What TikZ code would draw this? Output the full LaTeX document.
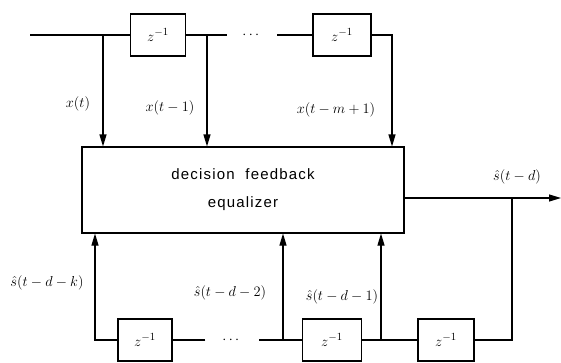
\documentclass[tikz,border=0pt]{standalone}
\usepackage{amsmath}
\usepackage{fontspec}
\setsansfont{Liberation Sans}
\usetikzlibrary{arrows.meta,positioning}

\begin{document}
\begin{tikzpicture}[x=1pt,y=-1pt,line width=1.1pt,
    every node/.style={font=\fontsize{15}{18}\selectfont},
    delay/.style={draw,minimum width=55pt,minimum height=42pt,inner sep=0pt},
    tap/.style={-{Triangle[length=12pt,width=7pt]}}]
  \useasboundingbox (0,0) rectangle (561,362);
  % equalizer block
  \node[draw,minimum width=322pt,minimum height=86pt,align=center,
        font=\sffamily\fontsize{15}{28}\selectfont\addfontfeatures{LetterSpace=8}] (dfe) at (243,190)
        {decision\ \ feedback\\equalizer};
  % forward delay line
  \coordinate (in) at (30,35);
  \node[delay] (d1) at (158,35) {$z^{-1}$};
  \node[minimum width=49pt,inner sep=0pt] (tdots) at (252,35) {$\cdots$};
  \node[delay,minimum width=58pt] (d2) at (342,35) {$z^{-1}$};
  \coordinate (t0) at (103,35);
  \coordinate (t1) at (207,35);
  \coordinate (t2) at (392,35);
  \draw (in) -- (d1.west);
  \draw (d1.east) -- (tdots.west);
  \draw (tdots.east) -- (d2.west);
  \draw[tap] (t0) -- (t0 |- dfe.north);
  \draw[tap] (t1) -- (t1 |- dfe.north);
  \draw[tap] (d2.east) -- (t2) -- (t2 |- dfe.north);
  \node (lx0) at (78,104) {$x(t)$};
  \node (lx1) at (170,108) {$x(t-1)$};
  \node (lx2) at (336,110) {$x(t-m+1)$};
  % output
  \coordinate (out) at (dfe.east |- 0,198);
  \coordinate (o1) at (512,198);
  \coordinate (oend) at (561,198);
  \draw[tap] (out) -- (oend);
  \node (ls) at (517,177) {$\hat{s}(t-d)$};
  % feedback delay line
  \node[delay,minimum width=54pt] (b1) at (145,340) {$z^{-1}$};
  \node[minimum width=52pt,inner sep=0pt] (bdots) at (232,340) {$\cdots$};
  \node[delay,minimum width=59pt] (b2) at (332,340) {$z^{-1}$};
  \node[delay,minimum width=56pt] (b3) at (446,340) {$z^{-1}$};
  \coordinate (f0) at (95,340);
  \coordinate (f1) at (283,340);
  \coordinate (f2) at (381,340);
  \coordinate (f3) at (512,340);
  \draw (o1) -- (f3) -- (b3.east);
  \draw (b3.west) -- (b2.east);
  \draw (b2.west) -- (bdots.east);
  \draw (bdots.west) -- (b1.east);
  \draw[tap] (b1.west) -- (f0) -- (f0 |- dfe.south);
  \draw[tap] (f1) -- (f1 |- dfe.south);
  \draw[tap] (f2) -- (f2 |- dfe.south);
  \node (lk) at (47,283) {$\hat{s}(t-d-k)$};
  \node (l2) at (230,293) {$\hat{s}(t-d-2)$};
  \node (l1) at (342,297) {$\hat{s}(t-d-1)$};
\end{tikzpicture}
\end{document}
